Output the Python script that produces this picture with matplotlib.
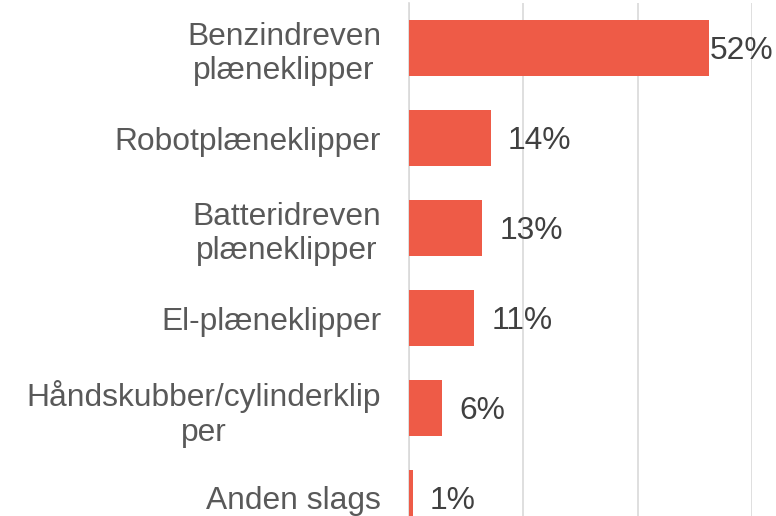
import matplotlib
matplotlib.use("Agg")
import matplotlib.pyplot as plt

categories = ["Benzindreven\nplæneklipper", "Robotplæneklipper", "Batteridreven\nplæneklipper",
              "El-plæneklipper", "Håndskubber/cylinderklip\nper", "Anden slags"]
values = [52.4, 14.3, 12.8, 11.4, 5.8, 0.7]
value_labels = ["52%", "14%", "13%", "11%", "6%", "1%"]
xticks = [0, 20, 40, 60]

W, H = 776, 516
fig = plt.figure(figsize=(W / 100, H / 100), dpi=100)
top_px, bottom_px = 3, 543
left_px, right_px = 409, 752.3
ax = fig.add_axes([left_px / W, 1 - bottom_px / H, (right_px - left_px) / W, (bottom_px - top_px) / H])

font = "Liberation Sans"
bar_color = "#EE5B47"
grid_color = "#D9D9D9"

ypos = list(range(len(categories)))
ax.barh(ypos, values, height=0.62, color=bar_color, zorder=3)
ax.set_ylim(len(categories) - 0.5, -0.5)
ax.set_xlim(0, 60)
ax.set_xticks(xticks)
ax.set_xticklabels([])
ax.tick_params(axis="x", length=0)
ax.xaxis.grid(True, color=grid_color, linewidth=1.2, zorder=0)
ax.set_axisbelow(True)
for s in ["top", "right", "bottom"]:
    ax.spines[s].set_visible(False)
ax.spines["left"].set_color(grid_color)
ax.spines["left"].set_linewidth(1.2)

ax.set_yticks(ypos)
ax.set_yticklabels(categories, fontfamily=font, fontsize=22.9, color="#595959",
                   multialignment="center", linespacing=1.2)
ax.tick_params(axis="y", length=0, pad=20)

fig.canvas.draw()
renderer = fig.canvas.get_renderer()
for y, v, lab in zip(ypos, values, value_labels):
    t = ax.annotate(lab, xy=(v, y), xytext=(17, -3), textcoords="offset pixels",
                    ha="left", va="center", fontfamily=font, fontsize=22.9, color="#404040")
    bb = t.get_window_extent(renderer)
    if bb.x1 > W - 3:
        t.set_position((17 - (bb.x1 - (W - 3)), -3))

fig.savefig("out.png", dpi=100)
